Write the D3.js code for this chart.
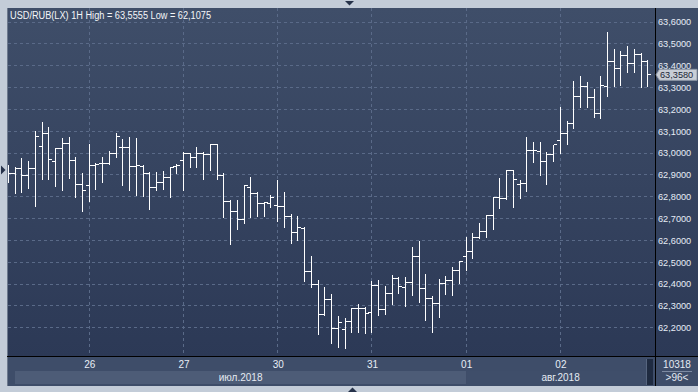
<!DOCTYPE html>
<html>
<head>
<meta charset="utf-8">
<script src="https://cdn.jsdelivr.net/npm/d3@7"></script>
<style>
  body { margin: 0; background: #c3ccd8; }
  svg { display: block; font-family: "Liberation Sans", Arial, sans-serif; }
</style>
</head>
<body>
<svg id="chart" width="698" height="392"></svg>
<script>
"use strict";

// sessions shown: day label, month, number of hourly bars visible
const dayLabels = ["25", "26", "27", "30", "31", "01", "02"];
const barsPerDay = [12, 14, 14, 14, 14, 14, 14];
const hours = ["10:00", "11:00", "12:00", "13:00", "14:00", "15:00", "16:00",
    "17:00", "18:00", "19:00", "20:00", "21:00", "22:00", "23:00"];
const monthLabels = ["июл.2018", "авг.2018"];
const monthStarts = ["25 12:00", "01 10:00"];
const yTicks = [62.2, 62.3, 62.4, 62.5, 62.6, 62.7, 62.8, 62.9, 63.0, 63.1, 63.2, 63.3, 63.4, 63.5, 63.6];

const open = [62.913, 62.908, 62.927, 62.895, 62.930, 63.031, 63.090, 62.963, 63.021, 63.044,
    62.968, 62.857, 62.849, 62.945, 62.950, 62.954, 63.000, 63.023, 63.025, 62.938,
    62.940, 62.907, 62.841, 62.866, 62.890, 62.936, 62.965, 62.999, 62.980, 62.999,
    62.994, 63.040, 62.895, 62.779, 62.730, 62.696, 62.843, 62.815, 62.771, 62.771,
    62.760, 62.754, 62.710, 62.638, 62.656, 62.456, 62.399, 62.262, 62.327, 62.197,
    62.192, 62.229, 62.289, 62.288, 62.270, 62.394, 62.284, 62.357, 62.426, 62.385,
    62.409, 62.528, 62.380, 62.336, 62.312, 62.403, 62.418, 62.461, 62.528, 62.551,
    62.612, 62.641, 62.715, 62.795, 62.792, 62.919, 62.857, 62.861, 63.012, 63.009,
    62.962, 62.995, 63.056, 63.090, 63.136, 63.258, 63.304, 63.252, 63.180, 63.306,
    63.421, 63.385, 63.448, 63.411, 63.452, 63.421];
const high = [62.945, 62.936, 62.979, 62.963, 63.103, 63.142, 63.120, 63.023, 63.071, 63.075,
    62.982, 62.907, 63.041, 62.956, 62.982, 63.009, 63.092, 63.064, 63.075, 63.070,
    62.945, 62.913, 62.914, 62.918, 62.935, 62.950, 63.006, 63.001, 63.026, 63.006,
    63.041, 63.041, 62.910, 62.785, 62.785, 62.853, 62.891, 62.823, 62.777, 62.808,
    62.876, 62.823, 62.721, 62.711, 62.660, 62.528, 62.418, 62.388, 62.354, 62.253,
    62.243, 62.290, 62.308, 62.296, 62.415, 62.418, 62.391, 62.443, 62.431, 62.431,
    62.571, 62.597, 62.446, 62.345, 62.423, 62.437, 62.476, 62.507, 62.614, 62.632,
    62.678, 62.716, 62.800, 62.884, 62.922, 62.922, 62.876, 63.072, 63.049, 63.049,
    63.003, 63.037, 63.212, 63.148, 63.330, 63.353, 63.324, 63.293, 63.353, 63.5555,
    63.476, 63.467, 63.492, 63.476, 63.457, 63.426];
const low = [62.867, 62.817, 62.821, 62.840, 62.757, 62.881, 62.881, 62.849, 62.831, 62.885,
    62.800, 62.736, 62.782, 62.837, 62.867, 62.950, 62.982, 62.853, 62.831, 62.808,
    62.804, 62.742, 62.831, 62.834, 62.800, 62.908, 62.831, 62.937, 62.935, 62.880,
    62.922, 62.880, 62.708, 62.582, 62.650, 62.678, 62.708, 62.711, 62.711, 62.754,
    62.690, 62.660, 62.589, 62.601, 62.415, 62.388, 62.171, 62.258, 62.128, 62.110,
    62.1075, 62.182, 62.182, 62.177, 62.182, 62.258, 62.263, 62.308, 62.357, 62.299,
    62.350, 62.319, 62.235, 62.182, 62.250, 62.354, 62.350, 62.406, 62.464, 62.518,
    62.611, 62.617, 62.650, 62.747, 62.791, 62.754, 62.795, 62.827, 62.957, 62.899,
    62.859, 62.965, 63.001, 63.043, 63.116, 63.209, 63.209, 63.166, 63.162, 63.262,
    63.308, 63.311, 63.370, 63.370, 63.304, 63.308];
const close = [62.908, 62.927, 62.897, 62.930, 63.076, 63.090, 62.971, 63.021, 63.044, 62.968,
    62.857, 62.827, 62.944, 62.948, 62.954, 63.000, 63.075, 63.025, 62.938, 62.942,
    62.907, 62.841, 62.866, 62.889, 62.935, 62.945, 62.999, 62.980, 62.999, 62.994,
    63.040, 62.895, 62.779, 62.730, 62.696, 62.849, 62.815, 62.771, 62.772, 62.797,
    62.754, 62.710, 62.638, 62.660, 62.456, 62.399, 62.262, 62.327, 62.197, 62.224,
    62.229, 62.289, 62.288, 62.266, 62.394, 62.284, 62.357, 62.426, 62.388, 62.409,
    62.528, 62.380, 62.336, 62.312, 62.403, 62.418, 62.461, 62.505, 62.551, 62.612,
    62.641, 62.715, 62.798, 62.792, 62.919, 62.880, 62.861, 63.012, 63.012, 62.962,
    62.995, 63.037, 63.090, 63.136, 63.261, 63.304, 63.252, 63.180, 63.310, 63.421,
    63.385, 63.448, 63.411, 63.452, 63.421, 63.358];

const titleText = "USD/RUB(LX) 1H High = 63,5555 Low = 62,1075";
const barCount = "10318";
const visibleCount = ">96<";

// categories: "DD HH:00" for every hourly bar
const categories = [];
dayLabels.forEach((d, i) => {
    hours.slice(hours.length - barsPerDay[i]).forEach(h => categories.push(`${d} ${h}`));
});
const dayStarts = dayLabels.slice(1).map(d => `${d} ${hours[0]}`);
const bars = categories.map((c, i) => ({cat: c, o: open[i], h: high[i], l: low[i], c: close[i]}));

const svg = d3.select("#chart"),
    plot = {left: 8, top: 8, right: 655, bottom: 356},
    fmt = d => d.toFixed(4).replace(".", ","),
    x = d3.scalePoint().domain(categories).range([8.5, 647.9]),
    y = d3.scaleLinear().domain([62.2, 63.6]).range([327.7, 22]),
    px = v => Math.floor(v) + 0.5;

// background gradient
const defs = svg.append("defs");
const grad = defs.append("linearGradient").attr("id", "bg")
    .attr("x1", 0).attr("y1", 0).attr("x2", 0).attr("y2", 1);
grad.append("stop").attr("offset", "0%").attr("stop-color", "#3f4e69");
grad.append("stop").attr("offset", "100%").attr("stop-color", "#2c3956");
defs.append("clipPath").attr("id", "clip").append("rect")
    .attr("x", plot.left).attr("y", plot.top)
    .attr("width", plot.right - plot.left).attr("height", plot.bottom - plot.top);

svg.append("rect").attr("x", 7).attr("y", 8).attr("width", 691).attr("height", 349)
    .attr("fill", "url(#bg)");

// bottom strip
svg.append("rect").attr("x", 7).attr("y", 357).attr("width", 691).attr("height", 29)
    .attr("fill", "#3e4d69");
svg.append("line").attr("x1", 7.5).attr("x2", 7.5).attr("y1", 8).attr("y2", 386)
    .attr("stroke", "#6e7a8e");

// month bands
monthStarts.forEach((m, i) => {
    const x0 = i === 0 ? 15 : x(m),
        x1 = i + 1 < monthStarts.length ? x(monthStarts[i + 1]) : plot.right;
    svg.append("rect").attr("x", x0).attr("y", 371).attr("width", x1 - x0).attr("height", 13)
        .attr("fill", i === 0 ? "#4d5c77" : "#3f4e6a");
    svg.append("text").attr("x", (x0 + x1) / 2).attr("y", 380.5)
        .attr("text-anchor", "middle").attr("fill", "#e4eaf2").attr("font-size", 10)
        .text(monthLabels[i]);
});

// scroll thumb
svg.append("rect").attr("x", 646).attr("y", 359).attr("width", 7).attr("height", 26)
    .attr("fill", "#1f2b41");
svg.append("line").attr("x1", 646.5).attr("x2", 646.5).attr("y1", 359).attr("y2", 385)
    .attr("stroke", "#56657f");

// grid
const grid = svg.append("g").attr("stroke", "#5a6a88").attr("stroke-dasharray", "3,3");
grid.selectAll(".gy").data(yTicks).enter().append("line")
    .attr("x1", plot.left).attr("x2", plot.right)
    .attr("y1", d => px(y(d))).attr("y2", d => px(y(d)));
grid.selectAll(".gx").data(dayStarts).enter().append("line")
    .attr("x1", d => px(x(d))).attr("x2", d => px(x(d)))
    .attr("y1", plot.top).attr("y2", plot.bottom);

// OHLC bars
const g = svg.append("g").attr("clip-path", "url(#clip)")
    .attr("stroke", "#ffffff").attr("stroke-width", 1).attr("shape-rendering", "crispEdges");
const bar = g.selectAll(".bar").data(bars).enter().append("g").attr("class", "bar");
bar.append("line")
    .attr("x1", d => px(x(d.cat))).attr("x2", d => px(x(d.cat)))
    .attr("y1", d => Math.round(y(d.h))).attr("y2", d => Math.round(y(d.l)) + 1);
bar.append("line")
    .attr("x1", d => Math.floor(x(d.cat)) - 3).attr("x2", d => Math.floor(x(d.cat)))
    .attr("y1", d => px(y(d.o))).attr("y2", d => px(y(d.o)));
bar.append("line")
    .attr("x1", d => Math.floor(x(d.cat)) + 1).attr("x2", d => Math.floor(x(d.cat)) + 4)
    .attr("y1", d => px(y(d.c))).attr("y2", d => px(y(d.c)));

// separators
svg.append("line").attr("x1", 7).attr("x2", 698).attr("y1", 356.5).attr("y2", 356.5)
    .attr("stroke", "#000");
svg.append("line").attr("x1", 655.5).attr("x2", 655.5).attr("y1", 8).attr("y2", 386)
    .attr("stroke", "#000");

// x axis (day labels)
const xAxis = svg.append("g").attr("transform", "translate(0,357)")
    .call(d3.axisBottom(x).tickValues(dayStarts).tickSize(0).tickPadding(4)
        .tickFormat(d => d.split(" ")[0]));
xAxis.select(".domain").remove();
xAxis.selectAll("text").attr("fill", "#e8eef6").attr("font-size", 10)
    .attr("font-family", "Liberation Sans, Arial, sans-serif");

// y axis on the right
const yAxis = svg.append("g").attr("transform", "translate(655,0)")
    .call(d3.axisRight(y).tickValues(yTicks).tickSize(0).tickPadding(3).tickFormat(fmt));
yAxis.select(".domain").remove();
yAxis.selectAll("text").attr("fill", "#e6ecf6").attr("font-size", 9.2)
    .attr("font-family", "Liberation Sans, Arial, sans-serif");

// last price marker
const last = close[close.length - 1], ly = y(last);
svg.append("path")
    .attr("d", `M656,${ly} L659.5,${ly - 5.5} L697,${ly - 5.5} L697,${ly + 5.5} L659.5,${ly + 5.5} Z`)
    .attr("fill", "#c9ced6").attr("stroke", "#8f98a6");
svg.append("text").attr("x", 660).attr("y", ly + 3.3).attr("fill", "#1b2636")
    .attr("font-size", 9.2).text(fmt(last));

// counters in bottom right corner
svg.append("text").attr("x", 677).attr("y", 367.5).attr("text-anchor", "middle")
    .attr("fill", "#e4eaf2").attr("font-size", 10).text(barCount);
svg.append("line").attr("x1", 662).attr("x2", 692).attr("y1", 371.5).attr("y2", 371.5)
    .attr("stroke", "#7d8aa2");
svg.append("text").attr("x", 677).attr("y", 381).attr("text-anchor", "middle")
    .attr("fill", "#e4eaf2").attr("font-size", 10).text(visibleCount);

// title
svg.append("text").attr("x", 10).attr("y", 18.5).attr("fill", "#f4f6f8")
    .attr("font-size", 10).attr("textLength", 201).attr("lengthAdjust", "spacingAndGlyphs")
    .text(titleText);

// window arrows
const arrow = svg.append("g").attr("fill", "#26324a");
arrow.append("path").attr("d", "M345,1 L354,1 L349.5,5.5 Z");
arrow.append("path").attr("d", "M1,165.5 L1,174.5 L5.5,170 Z");
arrow.append("path").attr("d", "M348,392 L357,392 L352.5,387.5 Z");
</script>
</body>
</html>
